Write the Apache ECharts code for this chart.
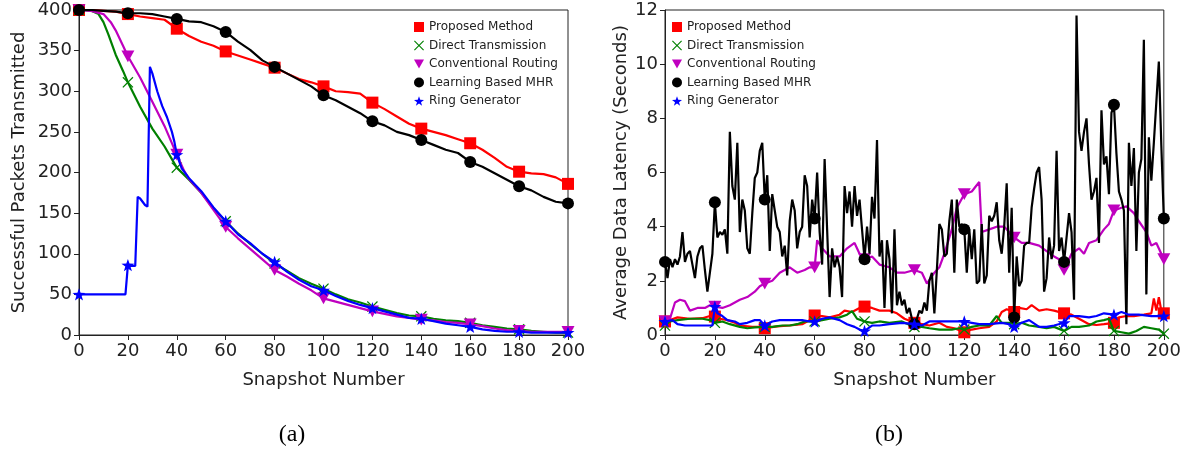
<!DOCTYPE html>
<html>
<head>
<meta charset="utf-8">
<script src="https://cdn.jsdelivr.net/npm/echarts@6/dist/echarts.min.js"></script>
<style>
html,body{margin:0;padding:0;background:#fff;}
#chart{width:1184px;height:452px;}
</style>
</head>
<body>
<div id="chart"></div>
<script>
// ---------------- DATA ----------------
const seriesNames = ['Proposed Method','Direct Transmission','Conventional Routing','Learning Based MHR','Ring Generator'];
const xTicks = [0,20,40,60,80,100,120,140,160,180,200];

// (a) Successful Packets Transmitted  [snapshot, value]
const leftProposed = [[0,400],[5,400],[10,399],[15,398],[20,395],[25,392],[30,390],[35,388],[40,377],[45,368],[50,361],[55,356],[60,349],[65,344],[70,339],[75,334],[80,329],[85,322],[90,315],[95,311],[100,306],[105,300],[110,299],[115,297],[120,286],[125,278],[130,269],[135,260],[140,254],[145,250],[150,246],[155,241],[160,236],[165,228],[170,218],[175,207],[180,201],[185,199],[190,198],[195,194],[200,186]];
const leftDirect = [[0,400],[5,399],[8,395],[10,385],[12,370],[15,345],[18,325],[20,311],[25,281],[30,254],[35,232],[40,206],[45,191],[50,175],[55,156],[60,140],[65,125],[70,112],[75,100],[80,88],[85,79],[90,70],[95,63],[100,57],[105,50],[110,44],[115,40],[120,35],[125,31],[130,27],[135,24],[140,23],[145,20],[150,18],[155,17],[160,15],[165,12],[170,10],[175,8],[180,7],[185,5],[190,4],[195,3],[200,3]];
const leftConventional = [[0,400],[5,399],[10,395],[13,385],[15,375],[18,356],[20,343],[25,317],[30,287],[35,257],[40,222],[43,202],[45,192],[50,175],[55,154],[60,133],[65,119],[70,106],[75,93],[80,80],[85,72],[90,63],[95,55],[100,45],[105,41],[110,37],[115,33],[120,29],[125,26],[130,23],[135,21],[140,19],[145,18],[150,16],[155,15],[160,13],[165,11],[170,8],[175,6],[180,5],[185,4],[190,4],[195,4],[200,4]];
const leftLearning = [[0,400],[5,400],[10,399],[15,398],[20,396],[25,396],[30,395],[35,392],[40,389],[45,386],[50,385],[55,380],[60,373],[65,361],[70,351],[75,338],[80,330],[85,322],[90,314],[95,306],[100,295],[105,289],[110,281],[115,273],[120,263],[125,258],[130,250],[135,246],[140,240],[145,234],[150,228],[155,224],[160,213],[165,207],[170,199],[175,191],[180,183],[185,178],[190,170],[195,164],[200,162]];
const leftRing = [[0,50],[5,50],[10,50],[15,50],[18,50],[19,50],[20,86],[21,85],[23,85],[24,170],[25,168],[27,160],[28,158],[29,330],[30,322],[32,300],[34,282],[36,268],[38,250],[39,238],[40,222],[42,205],[45,193],[50,177],[55,157],[60,140],[65,124],[70,113],[75,100],[80,90],[85,78],[90,68],[95,60],[100,55],[105,48],[110,42],[115,37],[120,33],[125,29],[130,25],[135,21],[140,20],[145,17],[150,14],[155,12],[160,10],[165,7],[170,5],[175,4],[180,4],[185,3],[190,3],[195,3],[200,3]];

// (b) Average Data Latency (Seconds)
const rightProposed = [[0,0.5],[2,0.55],[5,0.65],[10,0.6],[15,0.62],[18,0.7],[20,0.68],[22,0.6],[25,0.55],[28,0.45],[30,0.35],[35,0.3],[38,0.3],[40,0.25],[45,0.32],[50,0.35],[55,0.4],[58,0.55],[60,0.72],[63,0.7],[66,0.65],[70,0.75],[72,0.9],[75,0.85],[78,1.0],[80,1.05],[83,1.0],[86,0.9],[90,0.9],[93,0.8],[96,0.6],[100,0.45],[103,0.4],[106,0.35],[110,0.45],[113,0.3],[116,0.25],[120,0.1],[123,0.2],[126,0.25],[130,0.3],[133,0.5],[135,0.85],[137,0.95],[140,0.85],[142,1.0],[145,0.95],[147,1.1],[150,0.9],[153,0.95],[156,0.9],[160,0.8],[163,0.75],[166,0.6],[170,0.4],[173,0.37],[176,0.4],[180,0.45],[182,0.65],[185,0.7],[188,0.7],[192,0.75],[195,0.8],[196,1.35],[197,0.9],[198,1.4],[199,0.9],[200,0.8]];
const rightDirect = [[0,0.35],[2,0.5],[5,0.55],[10,0.6],[15,0.6],[18,0.55],[20,0.45],[23,0.5],[26,0.4],[30,0.3],[33,0.25],[36,0.28],[40,0.3],[43,0.3],[47,0.35],[50,0.35],[53,0.4],[56,0.5],[60,0.5],[63,0.55],[66,0.6],[70,0.65],[73,0.75],[75,0.88],[77,0.6],[80,0.5],[83,0.45],[86,0.5],[90,0.45],[95,0.5],[100,0.3],[103,0.3],[106,0.25],[110,0.2],[115,0.2],[118,0.25],[120,0.2],[123,0.3],[126,0.35],[130,0.35],[133,0.7],[135,0.45],[138,0.45],[140,0.4],[143,0.45],[146,0.35],[150,0.3],[153,0.25],[156,0.3],[160,0.15],[163,0.3],[166,0.3],[170,0.35],[173,0.5],[176,0.55],[178,0.6],[180,0.15],[183,0.1],[186,0.05],[189,0.15],[192,0.3],[195,0.25],[198,0.2],[200,0.05]];
const rightConventional = [[0,0.5],[2,0.6],[4,1.2],[6,1.3],[8,1.25],[10,0.9],[13,1.0],[16,1.0],[18,1.1],[20,1.05],[23,1.0],[26,1.1],[30,1.3],[33,1.4],[36,1.6],[38,1.8],[40,1.9],[43,2.0],[46,2.3],[50,2.5],[53,2.3],[56,2.4],[58,2.5],[60,2.5],[61,3.5],[63,3.2],[66,2.9],[70,2.9],[73,3.2],[76,3.4],[78,3.0],[80,2.8],[83,2.9],[86,2.6],[90,2.5],[93,2.3],[96,2.3],[100,2.4],[103,2.3],[105,1.9],[108,2.3],[110,2.5],[112,3.0],[115,3.9],[117,4.7],[120,5.2],[123,5.3],[126,5.65],[127,3.8],[130,3.9],[133,4.0],[136,4.0],[138,3.8],[140,3.6],[143,3.4],[146,3.4],[150,3.3],[153,3.1],[156,2.9],[158,2.8],[160,2.4],[163,3.0],[166,3.2],[168,3.0],[170,3.4],[173,3.5],[176,3.9],[178,4.1],[180,4.6],[183,4.7],[185,4.75],[188,4.5],[190,4.2],[193,3.8],[195,3.3],[197,3.4],[200,2.8]];
// one value per snapshot 0..200
const rightLearning = [2.7,2.1,2.8,2.5,2.8,2.6,2.9,3.8,2.7,3.0,3.1,2.6,2.1,2.9,3.2,3.3,2.4,1.6,2.3,3.0,
4.9,3.6,3.8,3.7,3.9,3.0,7.5,5.5,5.0,7.1,3.8,5.0,4.6,3.2,3.0,4.5,5.8,6.0,6.8,7.1,
5.0,5.9,3.1,5.2,4.6,4.0,3.8,2.9,3.3,2.2,4.2,5.0,4.6,3.2,3.8,4.0,5.9,5.5,3.6,5.0,
4.3,6.0,3.8,2.6,6.5,3.9,1.4,3.2,2.5,2.9,2.5,1.4,5.5,4.5,5.3,4.0,5.5,4.4,5.0,3.9,
2.8,4.0,3.0,5.1,4.3,7.2,2.9,3.5,1.0,3.5,2.8,0.8,3.9,1.1,1.6,1.1,1.3,0.8,1.0,0.6,
0.4,0.6,0.9,0.8,1.2,0.9,2.0,2.3,0.8,2.4,4.1,3.9,2.9,3.0,4.2,5.0,2.3,5.0,4.0,4.1,
3.9,2.3,3.9,2.8,3.9,1.9,2.0,4.1,1.9,2.2,4.4,4.2,4.4,4.9,3.5,3.0,4.0,5.6,2.3,4.7,
0.65,2.9,1.8,2.0,3.3,3.4,3.4,4.7,5.4,6.0,6.2,5.0,1.6,2.1,3.6,2.8,3.3,6.8,3.1,3.6,
2.7,3.6,4.5,3.8,1.3,11.8,7.5,6.8,7.5,8.0,6.3,5.0,5.3,5.8,3.4,8.3,6.3,6.6,5.2,8.2,
8.5,6.7,5.3,5.0,4.6,0.4,7.1,5.5,6.9,3.1,6.0,6.5,10.9,1.5,7.3,5.7,7.1,8.6,10.1,7.0,
4.3];
const rightRing = [[0,0.5],[3,0.55],[5,0.4],[8,0.35],[12,0.35],[16,0.35],[19,0.35],[20,1.05],[21,0.8],[23,0.7],[25,0.55],[28,0.5],[30,0.4],[33,0.45],[36,0.55],[38,0.55],[40,0.35],[43,0.5],[46,0.55],[50,0.55],[55,0.55],[58,0.5],[60,0.5],[63,0.6],[66,0.65],[70,0.55],[73,0.4],[76,0.3],[78,0.2],[80,0.15],[83,0.35],[86,0.35],[90,0.4],[95,0.45],[100,0.4],[103,0.35],[106,0.5],[110,0.5],[115,0.5],[120,0.5],[123,0.45],[126,0.4],[130,0.4],[135,0.45],[138,0.4],[140,0.3],[143,0.45],[146,0.55],[150,0.3],[153,0.3],[156,0.35],[160,0.45],[162,0.7],[166,0.7],[170,0.65],[173,0.7],[176,0.8],[180,0.75],[183,0.85],[186,0.75],[190,0.75],[195,0.7],[200,0.7]];

// ---------------- STYLE ----------------
const colors = ['#ff0000','#008000','#bf00bf','#000000','#0000ff'];
function starPath(){
  const p=[];
  for(let i=0;i<10;i++){
    const r = i%2 ? 0.4 : 1;
    const a = -Math.PI/2 + i*Math.PI/5;
    p.push((50+50*r*Math.cos(a)).toFixed(2)+','+(50+50*r*Math.sin(a)).toFixed(2));
  }
  return 'path://M'+p.join('L')+'Z';
}
const xPath = 'path://M0,0.8L0.8,0L5,4.2L9.2,0L10,0.8L5.8,5L10,9.2L9.2,10L5,5.8L0.8,10L0,9.2L4.2,5Z';
const triPath = 'path://M0,0L10,0L5,9Z';
const symbols = ['rect', xPath, triPath, 'circle', starPath()];
const symSizes = [12, 11, 13, 12, 13];

const leftSets = [leftProposed, leftDirect, leftConventional, leftLearning, leftRing];
const rightSets = [rightProposed, rightDirect, rightConventional, rightLearning.map((v,i)=>[i,v]), rightRing];

const series = [];
function addSeries(sets, axisIdx){
  sets.forEach((d,k)=>{
    series.push({
      name: seriesNames[k], type:'line', xAxisIndex:axisIdx, yAxisIndex:axisIdx,
      data:d, showSymbol:false, symbol:'none',
      lineStyle:{color:colors[k], width:2.2}, itemStyle:{color:colors[k]},
      z: 2+k*2, silent:true
    });
    series.push({
      name: seriesNames[k], type:'scatter', xAxisIndex:axisIdx, yAxisIndex:axisIdx,
      data:d.filter(p=>p[0]%20===0),
      symbol:symbols[k], symbolSize:symSizes[k], symbolKeepAspect:true,
      itemStyle:{color:colors[k], opacity:1}, z: 3+k*2, silent:true
    });
  });
}
addSeries(leftSets, 0);
addSeries(rightSets, 1);

function legendCfg(left){
  return {
    orient:'vertical', left:left, top:21, padding:0, itemGap:6.5,
    itemWidth:10, itemHeight:10, selectedMode:false,
    textStyle:{fontFamily:'DejaVu Sans', fontSize:12, lineHeight:12, color:'#222'},
    data: seriesNames.map((n,k)=>({name:n, icon:symbols[k], itemStyle:{color:colors[k]}}))
  };
}

const tickFont = {fontFamily:'DejaVu Sans', fontSize:18, color:'#222', margin:7};
const nameFont = {fontFamily:'DejaVu Sans', fontSize:18, color:'#222'};
function xAxisCfg(idx){
  return {type:'value', gridIndex:idx, min:0, max:200, interval:20,
    name:'Snapshot Number', nameLocation:'middle', nameGap:36, nameTextStyle:nameFont,
    axisLine:{show:true, lineStyle:{color:'#222', width:1}},
    axisTick:{show:true, length:5, lineStyle:{color:'#222'}},
    axisLabel:tickFont, splitLine:{show:false}};
}
function yAxisCfg(idx, max, interval, name, gap){
  return {type:'value', gridIndex:idx, min:0, max:max, interval:interval,
    name:name, nameLocation:'middle', nameGap:gap, nameTextStyle:nameFont,
    axisLine:{show:true, lineStyle:{color:'#222', width:1}},
    axisTick:{show:true, length:5, lineStyle:{color:'#222'}},
    axisLabel:tickFont, splitLine:{show:false}};
}

const chart = echarts.init(document.getElementById('chart'), null, {renderer:'canvas'});
chart.setOption({
  animation:false,
  backgroundColor:'#fff',
  grid:[
    {left:79, top:10, width:489, height:325, show:true, borderColor:'#222', borderWidth:1},
    {left:665, top:10, width:499, height:325, show:true, borderColor:'#222', borderWidth:1}
  ],
  xAxis:[xAxisCfg(0), xAxisCfg(1)],
  yAxis:[
    yAxisCfg(0, 400, 50, 'Successful Packets Transmitted', 51),
    yAxisCfg(1, 12, 2, 'Average Data Latency (Seconds)', 35)
  ],
  legend:[legendCfg(414), legendCfg(672)],
  graphic:[
    {type:'text', x:292, y:435, style:{text:'(a)', font:'24px "Liberation Serif"', align:'center', verticalAlign:'middle', textAlign:'center', textVerticalAlign:'middle', fill:'#000'}},
    {type:'text', x:889, y:435, style:{text:'(b)', font:'24px "Liberation Serif"', align:'center', verticalAlign:'middle', textAlign:'center', textVerticalAlign:'middle', fill:'#000'}}
  ],
  series:series
});
</script>
</body>
</html>
